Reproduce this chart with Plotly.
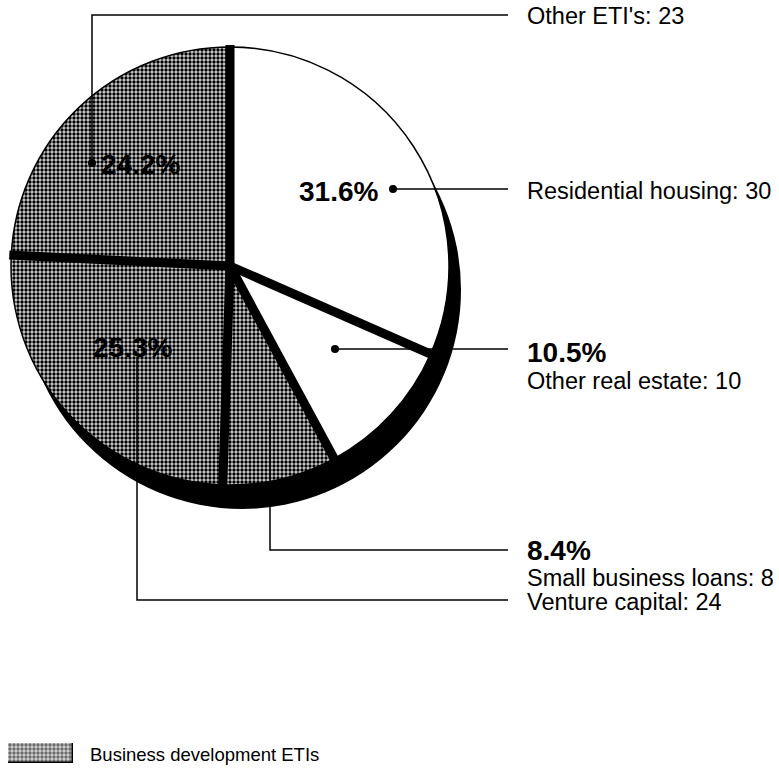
import math
import plotly.graph_objects as go

# ---- data ----
categories = ["Residential housing", "Other real estate", "Small business loans",
              "Venture capital", "Other ETI's"]
values = [30, 10, 8, 24, 23]
business_dev = [False, False, True, True, True]
legend_label = "Business development ETIs"

W, H = 779, 774
CX, CY, R = 230, 266, 219  # pie placement in pixels


def px(x):
    return x / W


def py(y):
    return 1 - y / H


total = sum(values)
pcts = [f"{v / total * 100:.1f}%" for v in values]

PAT = dict(fgcolor="black", bgcolor="#d4d4d4", size=4, solidity=0.55)

fig = go.Figure()

fig.add_trace(go.Pie(
    labels=categories,
    values=values,
    sort=False,
    direction="clockwise",
    rotation=0,
    textinfo="none",
    hoverinfo="label+value+percent",
    domain=dict(x=[px(CX - R), px(CX + R)], y=[py(CY + R), py(CY - R)]),
    marker=dict(
        colors=["white"] * len(values),
        line=dict(color="black", width=1.5),
        pattern=dict(shape=["." if b else "" for b in business_dev], **PAT),
    ),
    showlegend=False,
))

# legend swatch (pattern bar)
fig.add_trace(go.Bar(
    x=[0], y=[1], width=[1],
    marker=dict(color="white", line=dict(color="black", width=1.5),
                pattern=dict(shape=".", **PAT)),
    xaxis="x", yaxis="y", showlegend=False, hoverinfo="skip",
))

shapes = []
# shadow (3D extrusion approximation)
shapes.append(dict(type="circle", xref="paper", yref="paper", layer="below",
                   x0=px(CX + 12 - R), x1=px(CX + 12 + R),
                   y0=py(CY + 24 + R), y1=py(CY + 24 - R),
                   fillcolor="black", line=dict(color="black", width=0)))

# slice separators from cumulative data angles
cum = 0
for v in values:
    cum += v
    th = cum / total * 2 * math.pi
    x1 = CX + (R + 2) * math.sin(th)
    y1 = CY - (R + 2) * math.cos(th)
    shapes.append(dict(type="line", xref="paper", yref="paper",
                       x0=px(CX), y0=py(CY), x1=px(x1), y1=py(y1),
                       line=dict(color="black", width=9)))


def path(points):
    s = "M " + " L ".join(f"{px(a)},{py(b)}" for a, b in points)
    return dict(type="path", xref="paper", yref="paper", path=s,
                line=dict(color="black", width=1.5))


def dot(x, y, r=4):
    return dict(type="circle", xref="paper", yref="paper",
                x0=px(x - r), x1=px(x + r), y0=py(y + r), y1=py(y - r),
                fillcolor="black", line=dict(color="black", width=0))


LX = 508
# leader lines
shapes.append(path([(92, 163), (92, 15), (LX, 15)]))          # Other ETI's
shapes.append(path([(393, 189), (LX, 189)]))                  # Residential
shapes.append(path([(335, 349), (LX, 349)]))                  # Other real estate
shapes.append(path([(270, 418), (270, 550), (LX, 550)]))      # Small business
shapes.append(path([(137, 357), (137, 600), (LX, 600)]))      # Venture capital
shapes += [dot(92, 163), dot(393, 189), dot(335, 349)]

fig.update_layout(shapes=shapes)

FONT = "Liberation Sans, Arial, Helvetica, sans-serif"
REG = 23.5
BOLD = 28
TX = 525


def ann(x, y, text, size, bold=False, xanchor="left"):
    t = f"<b>{text}</b>" if bold else text
    fig.add_annotation(x=px(x), y=py(y), xref="paper", yref="paper",
                       text=t, showarrow=False, xanchor=xanchor, yanchor="middle",
                       font=dict(family=FONT, size=size, color="black",
                                 weight="bold" if bold else "normal"))


# percent labels
ann(99, 165, pcts[4], BOLD, bold=True)
ann(380, 191, pcts[0], BOLD, bold=True, xanchor="right")
ann(91, 347, pcts[3], BOLD, bold=True)
ann(TX, 352, pcts[1], BOLD, bold=True)
ann(TX, 550, pcts[2], BOLD, bold=True)

# category labels
ann(TX, 16, f"{categories[4]}: {values[4]}", REG)
ann(TX, 191, f"{categories[0]}: {values[0]}", REG)
ann(TX, 381, f"{categories[1]}: {values[1]}", REG)
ann(TX, 578, f"{categories[2]}: {values[2]}", REG)
ann(TX, 602, f"{categories[3]}: {values[3]}", REG)

# legend text
ann(88, 754, legend_label, 18.5)

fig.update_layout(
    width=W, height=H,
    margin=dict(l=0, r=0, t=0, b=0),
    paper_bgcolor="white", plot_bgcolor="white",
    showlegend=False,
    xaxis=dict(domain=[px(8), px(73)], range=[-0.5, 0.5], visible=False, fixedrange=True),
    yaxis=dict(domain=[py(763), py(743)], range=[0, 1], visible=False, fixedrange=True),
    bargap=0,
)

fig.write_html("out.html")
